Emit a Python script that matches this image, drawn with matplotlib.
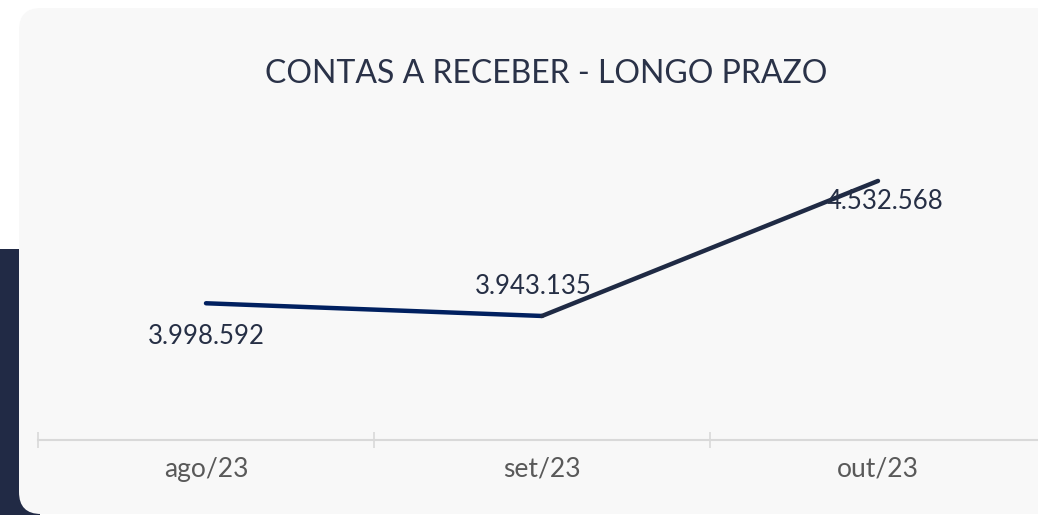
import matplotlib.pyplot as plt
from matplotlib.patches import FancyBboxPatch, Rectangle

# chart data
months = ['ago/23', 'set/23', 'out/23']
values = [3998592, 3943135, 4532568]
value_labels = ['3.998.592', '3.943.135', '4.532.568']
title = 'CONTAS A RECEBER - LONGO PRAZO'

plt.rcParams['font.family'] = ['Lato', 'DejaVu Sans']

fig = plt.figure(figsize=(10.38, 5.15), dpi=100)

# background card drawn in pixel-like coordinates
bg = fig.add_axes([0, 0, 1, 1])
bg.set_xlim(0, 1038)
bg.set_ylim(515, 0)
bg.axis('off')
bg.add_patch(Rectangle((0, 249), 40, 270, color='#212a45', lw=0))
bg.add_patch(FancyBboxPatch((19, 8), 1080, 506,
                            boxstyle='round,pad=0,rounding_size=22',
                            fc='#f8f8f8', ec='none'))
bg.text(546, 74, title, ha='center', va='center', fontsize=23,
        color='#2a3248')

# line chart
ax = fig.add_axes([38 / 1038, 75 / 515, 1008 / 1038, 310 / 515])
ax.set_facecolor('none')
x = list(range(len(months)))
ax.plot(x[0:2], values[0:2], color='#002060', lw=3.2, solid_capstyle='round')
ax.plot(x[1:3], values[1:3], color='#1f2a44', lw=3.2, solid_capstyle='round')

ax.set_xlim(-0.5, 2.5)
ax.set_ylim(3401650, 4755000)

# value labels
ax.annotate(value_labels[0], (x[0], values[0]), xytext=(0, -24),
            textcoords='offset points', ha='center', va='center',
            fontsize=18.5, color='#262f45')
ax.annotate(value_labels[1], (x[1], values[1]), xytext=(-6, 21),
            textcoords='offset points', ha='center', va='center',
            fontsize=18.5, color='#262f45')
ax.annotate(value_labels[2], (x[2], values[2]), xytext=(5, -15),
            textcoords='offset points', ha='center', va='center',
            fontsize=18.5, color='#262f45')

for s in ['top', 'right', 'left']:
    ax.spines[s].set_visible(False)
ax.spines['bottom'].set_color('#d9d9d9')
ax.spines['bottom'].set_linewidth(1.5)
ax.set_yticks([])

ax.set_xticks([-0.5, 0.5, 1.5, 2.5])
ax.set_xticklabels([])
ax.tick_params(axis='x', which='major', direction='inout', length=12,
               width=1.2, color='#d9d9d9')
ax.set_xticks(x, minor=True)
ax.set_xticklabels(months, minor=True)
ax.tick_params(axis='x', which='minor', length=0, pad=12,
               labelsize=19, labelcolor='#595959')

fig.savefig('out.png', dpi=100, facecolor='white')
